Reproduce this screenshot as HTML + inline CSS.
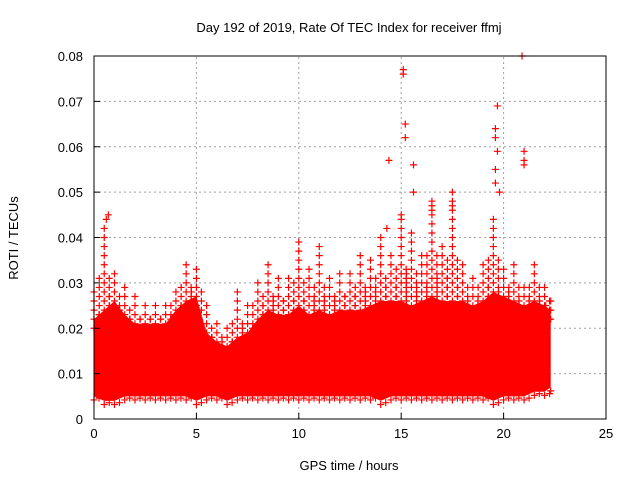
<!DOCTYPE html>
<html><head><meta charset="utf-8"><style>
body{margin:0;background:#fff;}
svg{display:block;font-family:"Liberation Sans",sans-serif;}
</style></head><body>
<svg id="chart" width="640" height="480">
<text x="349" y="32" font-size="13" text-anchor="middle">Day 192 of 2019, Rate Of TEC Index for receiver ffmj</text>
<text x="349" y="470" font-size="13" text-anchor="middle">GPS time / hours</text>
<text x="18" y="238" font-size="13" text-anchor="middle" transform="rotate(-90 18 238)">ROTI / TECUs</text>
<g id="grid"></g><g id="marks"></g><g id="axes"></g>
</svg>
<script>
const xTicks=[0,5,10,15,20,25];
const yTicks=[0,0.01,0.02,0.03,0.04,0.05,0.06,0.07,0.08];
const yTickLabels=["0","0.01","0.02","0.03","0.04","0.05","0.06","0.07","0.08"];
const times=[0,0.5,1,1.5,2,2.5,3,3.5,4,4.5,5,5.5,6,6.5,7,7.5,8,8.5,9,9.5,10,10.5,11,11.5,12,12.5,13,13.5,14,14.5,15,15.5,16,16.5,17,17.5,18,18.5,19,19.5,20,20.5,21,21.5,22,22.3];
const coreTop=[0.022,0.024,0.026,0.023,0.021,0.021,0.021,0.021,0.024,0.026,0.027,0.019,0.017,0.016,0.018,0.019,0.022,0.024,0.023,0.023,0.025,0.023,0.024,0.023,0.024,0.024,0.024,0.025,0.026,0.026,0.026,0.025,0.026,0.027,0.026,0.026,0.026,0.025,0.026,0.028,0.027,0.026,0.025,0.026,0.025,0.024];
const coreBottom=[0.005,0.004,0.004,0.005,0.005,0.005,0.005,0.005,0.005,0.005,0.004,0.005,0.005,0.004,0.005,0.005,0.005,0.005,0.005,0.005,0.005,0.005,0.005,0.005,0.005,0.005,0.005,0.005,0.004,0.005,0.005,0.005,0.005,0.005,0.005,0.005,0.005,0.005,0.005,0.004,0.005,0.005,0.005,0.006,0.006,0.007];
const peaks=[0.03,0.044,0.034,0.03,0.028,0.027,0.027,0.027,0.03,0.036,0.035,0.026,0.022,0.022,0.03,0.026,0.032,0.035,0.032,0.033,0.04,0.035,0.04,0.033,0.034,0.034,0.037,0.036,0.042,0.038,0.045,0.043,0.038,0.048,0.04,0.05,0.035,0.032,0.036,0.045,0.035,0.035,0.03,0.035,0.03,0.028];
const outT=[15.1,15.1,15.2,15.2,14.4,15.6,15.6,19.7,19.6,19.6,19.7,19.6,19.6,20.9,21,21,21,16.5,16.5,17.5,17.5,19.8,0.6,0.7,15,14.3];
const outV=[0.077,0.076,0.065,0.062,0.057,0.056,0.05,0.069,0.064,0.062,0.059,0.055,0.052,0.08,0.059,0.057,0.056,0.048,0.046,0.05,0.047,0.05,0.044,0.045,0.045,0.042];
const X0=94,X1=606,Y0=419,Y1=56;
const sx=v=>X0+(X1-X0)*v/25, sy=v=>Y0-(Y0-Y1)*v/0.08;
const NS="http://www.w3.org/2000/svg";
function mk(tag,attrs,parent){const e=document.createElementNS(NS,tag);for(const k in attrs)e.setAttribute(k,attrs[k]);parent.appendChild(e);return e;}
const grid=document.getElementById('grid'),marks=document.getElementById('marks'),axes=document.getElementById('axes');
xTicks.forEach((t,i)=>{
  if(t>0&&t<25){const l=mk('line',{x1:sx(t),x2:sx(t),y1:Y0,y2:Y1,stroke:'#a0a0a0','stroke-dasharray':'2,3'},grid);
  
  }
  const tk=mk('line',{x1:sx(t),x2:sx(t),y1:Y0,y2:Y0-6,stroke:'#000'},axes);
  
  
  const tx=mk('text',{x:sx(t),y:Y0+19,'font-size':13,'text-anchor':'middle'},axes);tx.textContent=String(t);
  
  
});
yTicks.forEach((t,i)=>{
  if(t>0&&t<0.08){const l=mk('line',{x1:X0,x2:X1,y1:sy(t),y2:sy(t),stroke:'#a0a0a0','stroke-dasharray':'2,3'},grid);
  
  }
  const tk=mk('line',{x1:X0,x2:X0+6,y1:sy(t),y2:sy(t),stroke:'#000'},axes);
  
  
  const tx=mk('text',{x:X0-11,y:sy(t)+5,'font-size':13,'text-anchor':'end'},axes);tx.textContent=yTickLabels[i];
  
  
});
const frame=mk('rect',{x:X0,y:Y1,width:X1-X0,height:Y0-Y1,fill:'none',stroke:'#000'},axes);


let pts=times.map((t,i)=>sx(t)+','+sy(coreTop[i]));
for(let i=times.length-1;i>=0;i--)pts.push(sx(times[i])+','+sy(coreBottom[i]));
const core=mk('polygon',{points:pts.join(' '),fill:'#ff0000'},marks);


function cross(x,y,col){const p=mk('path',{d:`M${x-3.5},${y}h7M${x},${y-3.5}v7`,stroke:col,'stroke-width':1.2},marks);
  
  }
const xEnd=sx(times[times.length-1]);
times.forEach((t,i)=>{
  const x=sx(t);
  for(let v=coreTop[i]-0.002;v<=peaks[i];v+=0.002){cross(x,sy(v),'#ff0000');}
  const mid=(peaks[i]+coreTop[i])/2;
  for(let v=coreTop[i]-0.002;v<=mid;v+=0.002){
    if(x+5<=xEnd)cross(x+5,sy(v-0.001),'#ff0000');
    if(x-5>=X0+2)cross(x-5,sy(v-0.001),'#ff0000');
  }
  cross(x,sy(coreBottom[i]-0.0008),'#ff0000');
  if(x+5<=xEnd)cross(x+5,sy(coreBottom[i]-0.0004),'#ff0000');
});
outT.forEach((t,i)=>cross(sx(t),sy(outV[i]),'#ff0000'));
</script>
</body></html>
